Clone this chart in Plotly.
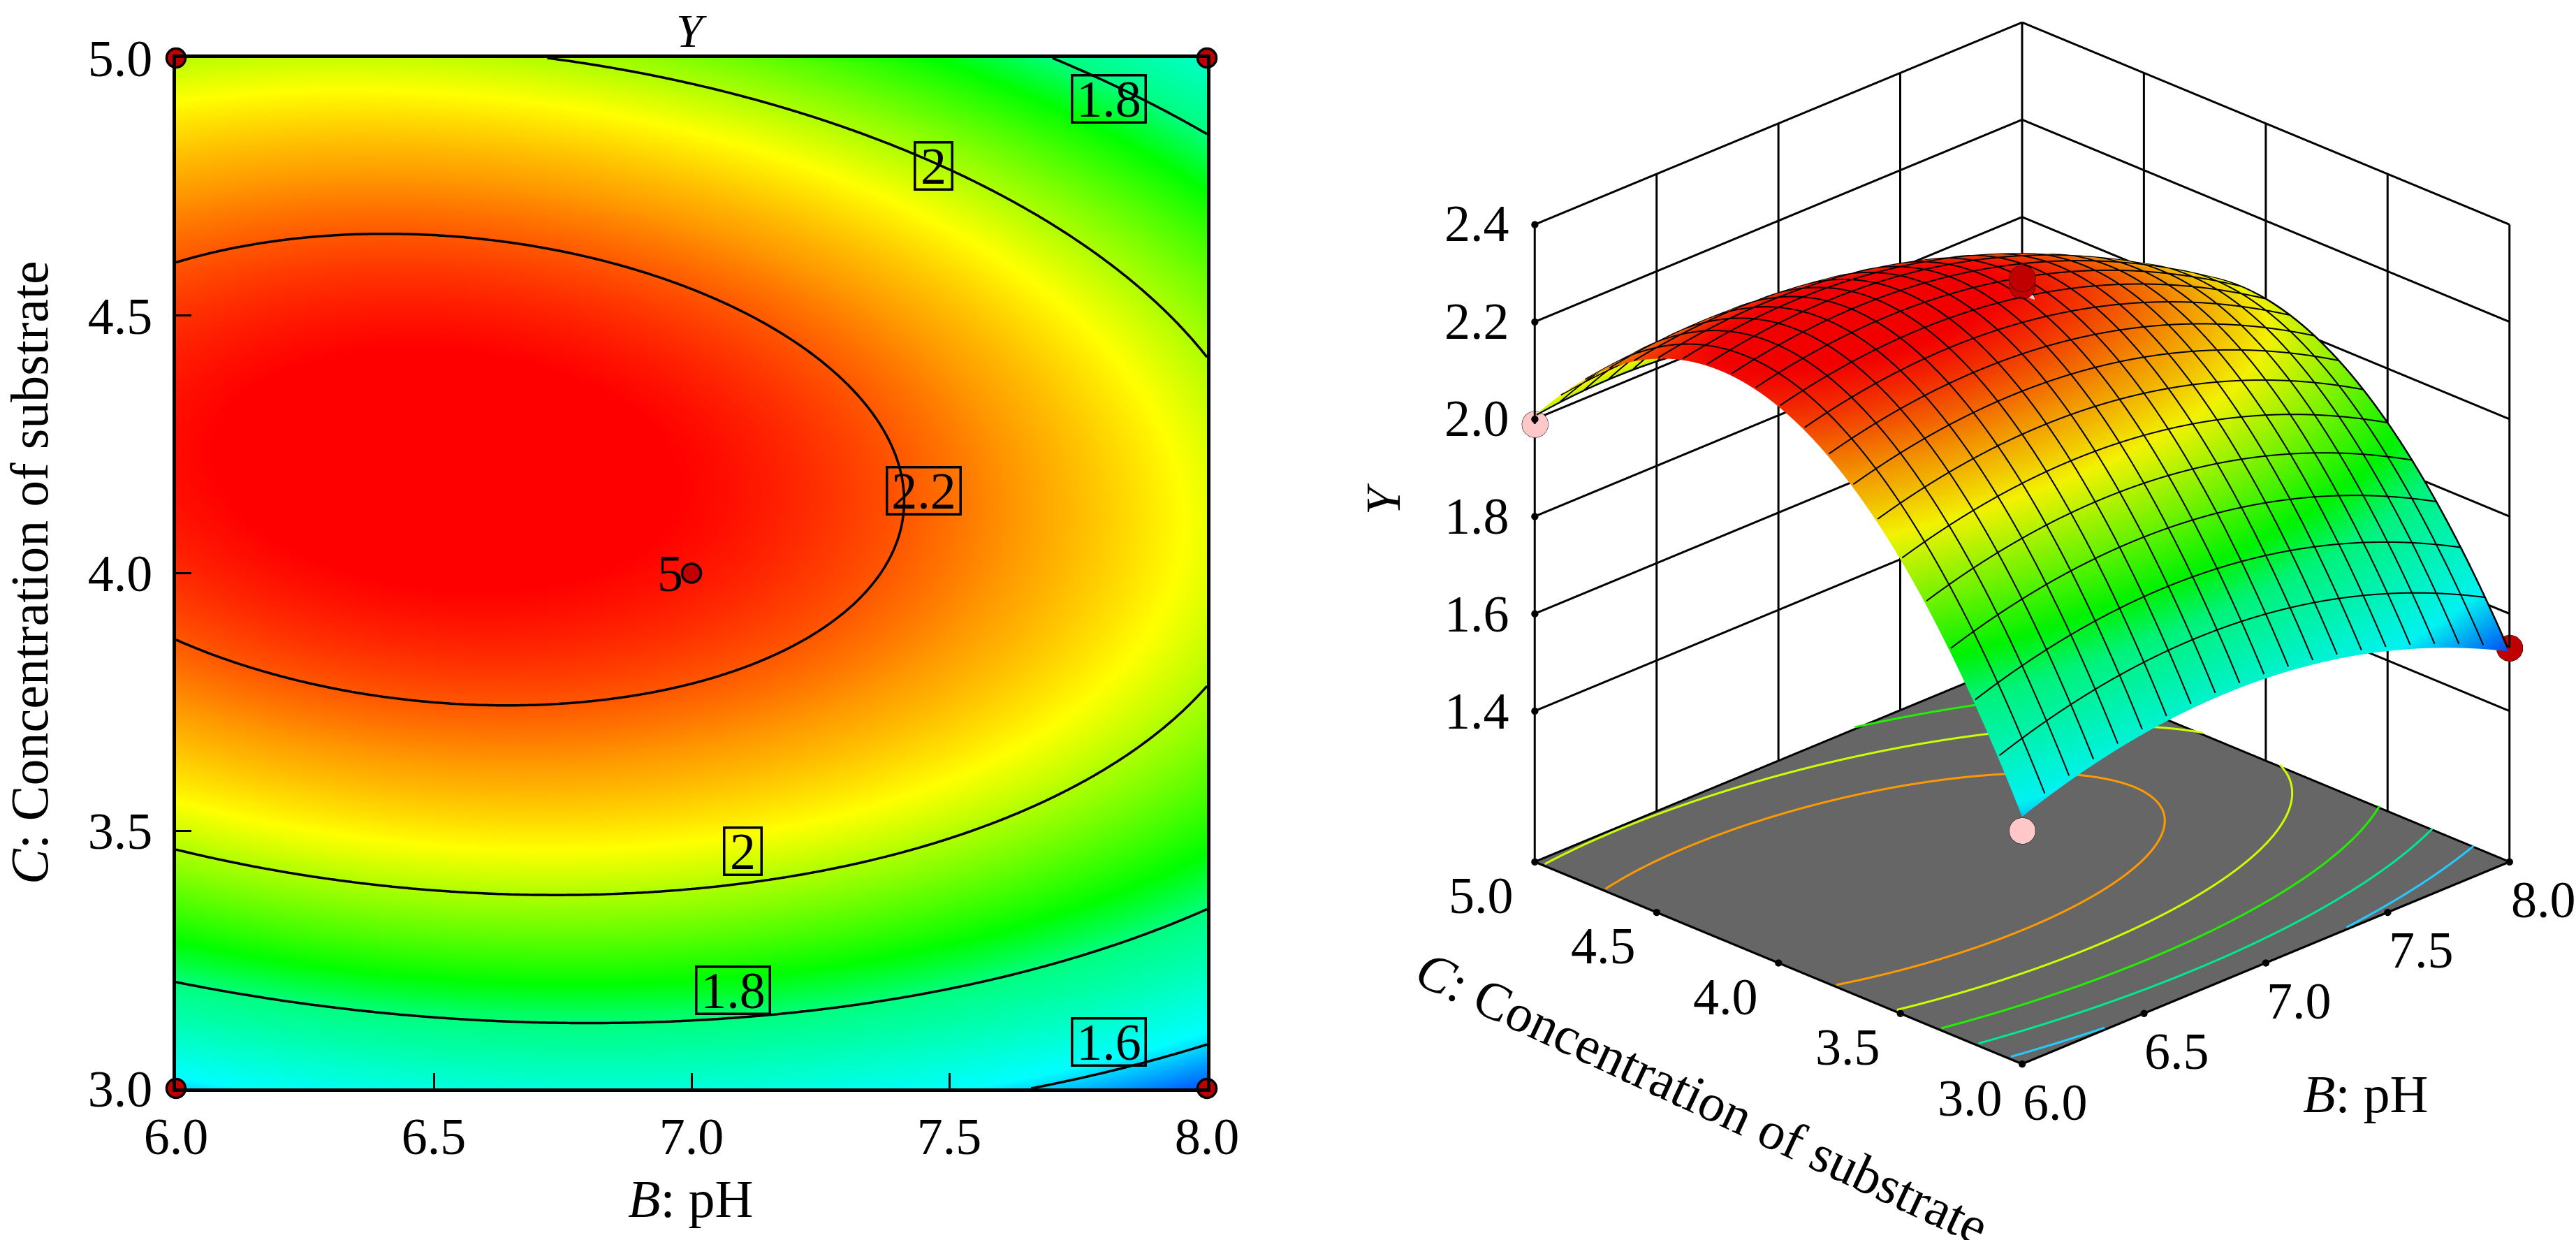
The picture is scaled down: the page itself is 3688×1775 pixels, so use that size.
import numpy as np
import plotly.graph_objects as go

# ---------------- data ----------------
B_range = [6.0, 8.0]          # B: pH
C_range = [3.0, 5.0]          # C: concentration of substrate
# quadratic response-surface model in coded units (x=B-7, y=C-4), estimated from contour positions
coef_b0 = 2.251
coef_B = -0.097
coef_C = 0.1453
coef_BC = -0.059
coef_BB = -0.1144
coef_CC = -0.431

contour_levels = [1.6, 1.8, 2.0, 2.2]
x_ticks = [6.0, 6.5, 7.0, 7.5, 8.0]
x_ticktext = ["6.0", "6.5", "7.0", "7.5", "8.0"]
y_ticks = [3.0, 3.5, 4.0, 4.5, 5.0]
y_ticktext = ["3.0", "3.5", "4.0", "4.5", "5.0"]
z_ticks = [1.4, 1.6, 1.8, 2.0, 2.2, 2.4]
z_ticktext = ["1.4", "1.6", "1.8", "2.0", "2.2", "2.4"]
z_range = [1.09, 2.4]
mesh_B = [6.0 + 0.1 * i for i in range(21)]
mesh_C = [3.0 + 0.1 * i for i in range(21)]

# design points
design_B = [6.0, 8.0, 6.0, 8.0, 7.0]
design_C = [3.0, 3.0, 5.0, 5.0, 4.0]
design_Y = [1.57, 1.53, 1.99, 1.79, 2.29]
center_Y = [2.29, 2.275, 2.24, 2.23, 2.21]
center_count = "5"

# contour label texts and where they sit (B, C)
label_text = ["1.8", "2", "2.2", "2", "1.8", "1.6"]
label_B = [7.81, 7.47, 7.45, 7.10, 7.08, 7.81]
label_C = [4.92, 4.79, 4.16, 3.46, 3.19, 3.09]

FONT = "Liberation Serif"
colorscale = [
    [0.0, "#0050ff"], [0.13, "#00ffff"], [0.36, "#00ff80"], [0.45, "#00ff00"],
    [0.62, "#aaff00"], [0.70, "#ffff00"], [0.82, "#ff9900"], [0.97, "#ff0000"], [1.0, "#ff0000"],
]
floor_colors = ["#22ccff", "#00e890", "#22ee00", "#ccff00", "#ff9900"]
W, Hpx = 3688, 1775


def model(B, C):
    x = np.asarray(B, dtype=float) - 7.0
    y = np.asarray(C, dtype=float) - 4.0
    return (coef_b0 + coef_B * x + coef_C * y + coef_BC * x * y
            + coef_BB * x ** 2 + coef_CC * y ** 2)


# ---------------- 2D contour ----------------
Bg = np.linspace(B_range[0], B_range[1], 241)
Cg = np.linspace(C_range[0], C_range[1], 241)
Zg = model(Bg[None, :], Cg[:, None])
zlo, zhi = float(Zg.min()), float(Zg.max())

fig = go.Figure()
fig.add_trace(go.Contour(
    x=Bg, y=Cg, z=Zg, colorscale=colorscale, zmin=zlo, zmax=zhi, showscale=False,
    contours=dict(start=contour_levels[0], end=contour_levels[-1], size=0.2, coloring="heatmap"),
    line=dict(color="black", width=3.5), hoverinfo="skip", xaxis="x", yaxis="y"))

fig.add_trace(go.Scatter(
    x=design_B, y=design_C, mode="markers", cliponaxis=False,
    marker=dict(size=27, color="#c00000", line=dict(color="black", width=3.5)),
    xaxis="x", yaxis="y", hoverinfo="skip"))


def ann(**kw):
    base = dict(showarrow=False, xanchor="center", yanchor="middle")
    base.update(kw)
    return base


annotations = []
for t, bx, cy in zip(label_text, label_B, label_C):
    annotations.append(ann(x=bx, y=cy, xref="x", yref="y", text=t,
                           font=dict(family=FONT, size=74, color="black"),
                           width=36 * len(t) - 6 if len(t) > 1 else 50, height=64,
                           bordercolor="black", borderwidth=3.5, borderpad=0))
annotations.append(ann(x=design_B[4], y=design_C[4], xref="x", yref="y", text=center_count,
                       xanchor="right", xshift=-10,
                       font=dict(family=FONT, size=74, color="black")))
annotations.append(ann(x=990 / W, y=1 - 44 / Hpx, xref="paper", yref="paper", text="<i>Y</i>",
                       font=dict(family=FONT, size=68, color="black")))
annotations.append(ann(x=988 / W, y=1 - 1716 / Hpx, xref="paper", yref="paper",
                       text="<i>B</i>: pH", font=dict(family=FONT, size=76, color="black")))
annotations.append(ann(x=42 / W, y=1 - 820 / Hpx, xref="paper", yref="paper",
                       text="<i>C</i>: Concentration of substrate", textangle=-90,
                       font=dict(family=FONT, size=76, color="black")))

# ---------------- 3D ----------------
scene_dom_x = [0.57, 1.0]
scene_dom_y = [0.0, 1.0]
aspect = dict(x=1.114, y=1.114, z=1.133)
elev = np.deg2rad(24.5)
dist = 1.5
cam_cz = -0.1362
eye = dict(x=-dist * np.cos(elev) / np.sqrt(2), y=-dist * np.cos(elev) / np.sqrt(2),
           z=dist * np.sin(elev) + cam_cz)
ev = np.array([-np.cos(elev) / np.sqrt(2), -np.cos(elev) / np.sqrt(2), np.sin(elev)])
scale_data = np.array([aspect["x"] / (B_range[1] - B_range[0]),
                       aspect["y"] / (C_range[1] - C_range[0]),
                       aspect["z"] / (z_range[1] - z_range[0])])
shift = 0.008 * ev / scale_data   # small offset toward the camera (data units)

# slightly padded 3D axis ranges so lines on the box faces are not clipped
pad = 0.002
B_axis = [B_range[0] - pad, B_range[1] + pad]
C_axis = [C_range[0] - pad, C_range[1] + pad]
Z_axis = [z_range[0] - pad, z_range[1] + pad]

# orthographic projection of the scene (used only to place tick-label text)
vp_h = (scene_dom_y[1] - scene_dom_y[0]) * Hpx
px_per_unit = vp_h / 2
vp_cx = (scene_dom_x[0] + scene_dom_x[1]) / 2 * W
vp_cy = (1 - (scene_dom_y[0] + scene_dom_y[1]) / 2) * Hpx
r_vec = np.array([1, -1, 0]) / np.sqrt(2)
up_vec = np.array([np.sin(elev) / np.sqrt(2), np.sin(elev) / np.sqrt(2), np.cos(elev)])


def to_screen(b, c, z):
    p = np.array([(b - 7.0) * scale_data[0], (c - 4.0) * scale_data[1],
                  (z - (z_range[0] + z_range[1]) / 2) * scale_data[2] - cam_cz])
    return vp_cx + px_per_unit * (p @ r_vec), vp_cy - px_per_unit * (p @ up_vec)


Bs = np.linspace(B_range[0], B_range[1], 81)
Cs = np.linspace(C_range[0], C_range[1], 81)
Zs = model(Bs[None, :], Cs[:, None])

fig.add_trace(go.Surface(
    x=Bs, y=Cs, z=Zs, colorscale=colorscale, cmin=zlo, cmax=zhi, showscale=False,
    lighting=dict(ambient=0.95, diffuse=0.3, specular=0.15, roughness=0.6, fresnel=0.05),
    lightposition=dict(x=-1000, y=-1000, z=3000),
    hoverinfo="skip", scene="scene"))


def add_lines3d(segs, color, width):
    xs, ys, zs = [], [], []
    for sb, sc, sz in segs:
        xs += [float(v) for v in sb] + [None]
        ys += [float(v) for v in sc] + [None]
        zs += [float(v) for v in sz] + [None]
    fig.add_trace(go.Scatter3d(x=xs, y=ys, z=zs, mode="lines",
                               line=dict(color=color, width=width), hoverinfo="skip",
                               showlegend=False, scene="scene"))


# mesh lines on the surface (+ outline)
tt = np.linspace(0, 1, 81)
mesh_segs = []
for b in mesh_B:
    cc = C_range[0] + (C_range[1] - C_range[0]) * tt
    bb = np.full_like(cc, b)
    mesh_segs.append((bb + shift[0], cc + shift[1], model(bb, cc) + shift[2]))
for c in mesh_C:
    bb = B_range[0] + (B_range[1] - B_range[0]) * tt
    cc = np.full_like(bb, c)
    mesh_segs.append((bb + shift[0], cc + shift[1], model(bb, cc) + shift[2]))
add_lines3d(mesh_segs, "black", 4)
edge_segs = [mesh_segs[0], mesh_segs[20], mesh_segs[21], mesh_segs[41]]
add_lines3d(edge_segs, "black", 5)

# wall grid and box edges
b0, b1 = B_range
c0, c1 = C_range
z0, z1 = z_range
wall = []
for b in x_ticks:
    wall.append(([b, b], [c1, c1], [z0, z1]))
for c in y_ticks:
    wall.append(([b1, b1], [c, c], [z0, z1]))
for z in z_ticks:
    wall.append(([b0, b1], [c1, c1], [z, z]))
    wall.append(([b1, b1], [c1, c0], [z, z]))
wall.append(([b0, b1], [c0, c0], [z0, z0]))
wall.append(([b1, b1], [c0, c1], [z0, z0]))
wall.append(([b1, b0], [c1, c1], [z0, z0]))
wall.append(([b0, b0], [c1, c0], [z0, z0]))
add_lines3d(wall, "black", 6)

# tick dots
fig.add_trace(go.Scatter3d(
    x=x_ticks + [b0] * len(y_ticks) + [b0] * len(z_ticks),
    y=[c0] * len(x_ticks) + y_ticks + [c1] * len(z_ticks),
    z=[z0] * len(x_ticks) + [z0] * len(y_ticks) + z_ticks,
    mode="markers", marker=dict(size=6, color="black"), hoverinfo="skip",
    showlegend=False, scene="scene"))

# floor contour lines (ellipses of the quadratic model, clipped to the square)
Hm = np.array([[coef_BB, coef_BC / 2], [coef_BC / 2, coef_CC]])
g = np.array([coef_B, coef_C])
s = -0.5 * np.linalg.solve(Hm, g)
ymax = coef_b0 + 0.5 * g @ s
lam, V = np.linalg.eigh(-Hm)
theta = np.linspace(0, 2 * np.pi, 3000)
for k in range(1, 6):
    lev = zlo + k * (zhi - zlo) / 6
    r = np.sqrt(ymax - lev)
    u = np.vstack([r * np.cos(theta) / np.sqrt(lam[0]), r * np.sin(theta) / np.sqrt(lam[1])])
    d = (V @ u).T + s
    inside = (np.abs(d[:, 0]) <= 1) & (np.abs(d[:, 1]) <= 1)
    xs = [float(v + 7) if ok else None for v, ok in zip(d[:, 0], inside)]
    ys = [float(v + 4) if ok else None for v, ok in zip(d[:, 1], inside)]
    zs = [z0 + 0.004 if ok else None for ok in inside]
    fig.add_trace(go.Scatter3d(x=xs, y=ys, z=zs, mode="lines",
                               line=dict(color=floor_colors[k - 1], width=6),
                               hoverinfo="skip", showlegend=False, scene="scene"))

# design points in 3D
surf_at = model(design_B, design_C)
pB = design_B[:4] + [design_B[4]] * len(center_Y)
pC = design_C[:4] + [design_C[4]] * len(center_Y)
pY = design_Y[:4] + center_Y
pS = list(surf_at[:4]) + [float(surf_at[4])] * len(center_Y)
pcol = ["#c00000" if yy >= ss else "#ffc8c8" for yy, ss in zip(pY, pS)]
fig.add_trace(go.Scatter3d(x=pB, y=pC, z=pY, mode="markers",
                           marker=dict(size=22, color=pcol, line=dict(color="black", width=3)),
                           hoverinfo="skip", showlegend=False, scene="scene"))

# 3D tick labels as text placed next to the projected tick positions
tfont = dict(family=FONT, size=74, color="black")
for v, t in zip(x_ticks, x_ticktext):
    sx, sy = to_screen(v, c0, z0)
    annotations.append(ann(x=(sx + 47) / W, y=1 - (sy + 53) / Hpx, xref="paper", yref="paper",
                           text=t, font=tfont))
for v, t in zip(y_ticks, y_ticktext):
    sx, sy = to_screen(b0, v, z0)
    annotations.append(ann(x=(sx - 75) / W, y=1 - (sy + 47) / Hpx, xref="paper", yref="paper",
                           text=t, font=tfont))
for v, t in zip(z_ticks, z_ticktext):
    sx, sy = to_screen(b0, c1, v)
    annotations.append(ann(x=(sx - 81) / W, y=1 - sy / Hpx, xref="paper", yref="paper",
                           text=t, font=tfont))

ax3 = dict(showgrid=False, showline=False, showbackground=False, showspikes=False,
           zeroline=False, title=dict(text=""), ticks="", showticklabels=False)

annotations += [
    ann(x=1980 / W, y=1 - 714 / Hpx, xref="paper", yref="paper", text="<i>Y</i>", textangle=-90,
        font=dict(family=FONT, size=70, color="black")),
    ann(x=2437 / W, y=1 - 1571 / Hpx, xref="paper", yref="paper",
        text="<i>C</i>: Concentration of substrate", textangle=25,
        font=dict(family=FONT, size=76, color="black")),
    ann(x=3386 / W, y=1 - 1566 / Hpx, xref="paper", yref="paper", text="<i>B</i>: pH",
        font=dict(family=FONT, size=76, color="black")),
]

axis2d = dict(showgrid=False, zeroline=False, showline=True, linecolor="black", linewidth=5,
              mirror=True, ticks="inside", ticklen=22, tickwidth=3, tickcolor="black",
              automargin=False, tickfont=dict(family=FONT, size=74, color="black"))

fig.update_layout(
    width=W, height=Hpx, margin=dict(l=0, r=0, t=0, b=0, autoexpand=False),
    paper_bgcolor="white", plot_bgcolor="white", showlegend=False,
    xaxis=dict(axis2d, domain=[252 / W, 1728 / W], range=B_range,
               tickvals=x_ticks, ticktext=x_ticktext),
    yaxis=dict(axis2d, domain=[(Hpx - 1558) / Hpx, (Hpx - 83) / Hpx], range=C_range,
               tickvals=y_ticks, ticktext=y_ticktext, ticklabelstandoff=14),
    scene=dict(
        domain=dict(x=scene_dom_x, y=scene_dom_y),
        xaxis=dict(ax3, range=B_axis),
        yaxis=dict(ax3, range=C_axis),
        zaxis=dict(ax3, range=Z_axis, showbackground=True, backgroundcolor="#666666"),
        aspectmode="manual", aspectratio=aspect,
        camera=dict(eye=eye, up=dict(x=0, y=0, z=1),
                    center=dict(x=0, y=0, z=cam_cz), projection=dict(type="orthographic")),
        bgcolor="rgba(0,0,0,0)"),
    annotations=annotations,
)

fig.write_html("out.html", config={"displayModeBar": False},
               post_script="document.body.style.margin='0';")
